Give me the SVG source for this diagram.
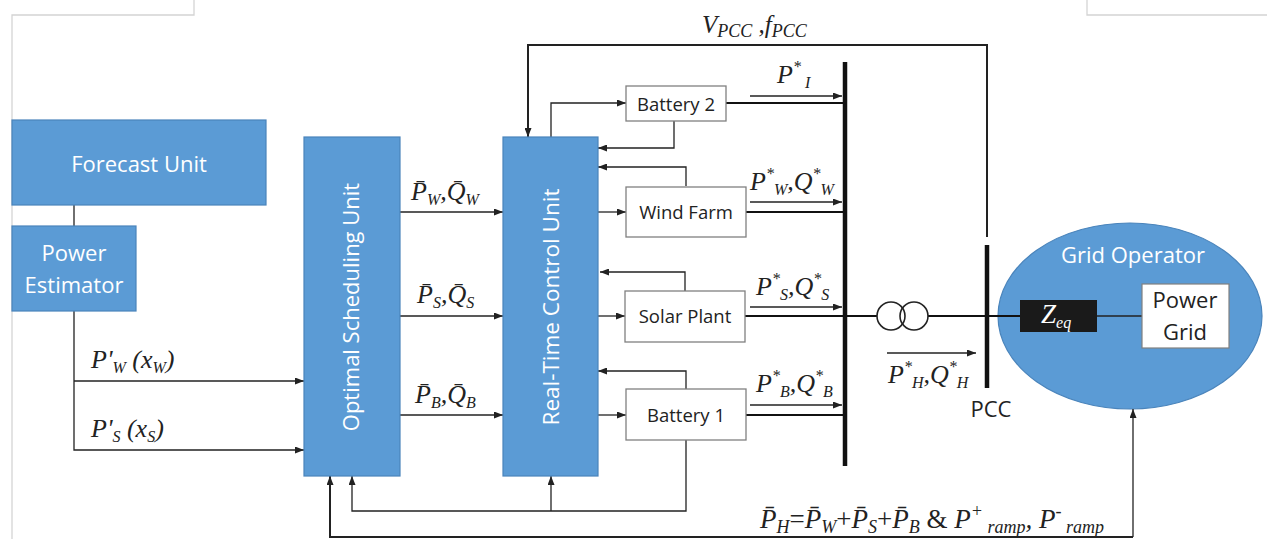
<svg xmlns="http://www.w3.org/2000/svg" width="1267" height="539" viewBox="0 0 1267 539">
<style>
.blue{fill:#5b9bd5;stroke:#4a84bb;stroke-width:1.2}
.wbox{fill:#fff;stroke:#808080;stroke-width:1.3}
.bt{font-family:"Open Sans","Noto Sans",sans-serif;font-size:22px;fill:#fff;text-anchor:middle}
.wt{font-family:"Open Sans","Noto Sans",sans-serif;font-size:18.5px;fill:#222;text-anchor:middle}
.m{font-family:"Liberation Serif","Times New Roman",serif;font-style:italic;font-size:26px;fill:#222}
.s{font-size:16px}
.up{font-style:normal}
.c{fill:none;stroke:#222;stroke-width:1.3}
.ca{fill:none;stroke:#222;stroke-width:1.3;marker-end:url(#ah)}
.pw{fill:none;stroke:#111;stroke-width:2.2}
.bus{fill:none;stroke:#111;stroke-width:4.5}
.frame{fill:none;stroke:#d4d4d4;stroke-width:1.3}
</style>
<defs>
<marker id="ah" markerWidth="9" markerHeight="7" refX="9" refY="3.5" orient="auto" markerUnits="userSpaceOnUse"><path d="M0,0 L9,3.5 L0,7 z" fill="#222"/></marker>
</defs>
<rect width="1267" height="539" fill="#fff"/>
<path class="frame" d="M12,539 V15 H194 V0"/>
<path class="frame" d="M1087,0 V15 H1267"/>

<g id="grid-operator">
<ellipse cx="1130" cy="316" rx="132" ry="93" fill="#5b9bd5" stroke="#4a84bb" stroke-width="1.2"/>
<text class="bt" x="1133" y="263">Grid Operator</text>
</g>

<g id="connectors">
<path class="c" d="M74,205 V226"/>
<path class="ca" d="M74,311 V450 H304"/>
<path class="ca" d="M74,381 H304"/>
<path class="ca" d="M400,212 H503"/>
<path class="ca" d="M400,316 H503"/>
<path class="ca" d="M400,415 H503"/>
<path class="ca" d="M551,137 V103 H626"/>
<path class="ca" d="M674,121 V148 H598"/>
<path class="ca" d="M686,186 V167 H598"/>
<path class="ca" d="M598,212 H626"/>
<path class="ca" d="M685,291 V272 H600"/>
<path class="ca" d="M598,316 H625"/>
<path class="ca" d="M686,390 V371 H598"/>
<path class="ca" d="M598,415 H626"/>
<path class="ca" d="M686,440 V511 H352 V476"/>
<path class="ca" d="M551,511 V476"/>
<path class="ca" d="M1133,537 H330 V476" style="stroke-width:2"/>
<path class="ca" d="M1133,537 V409"/>
<path class="ca" d="M987,237 V45 H528 V137" style="stroke-width:2"/>
<path class="pw" d="M726,103 H845"/>
<path class="pw" d="M746,212 H845"/>
<path class="pw" d="M745,316 H877"/>
<path class="pw" d="M928,316 H1020"/>
<path class="c" d="M1097,316 H1142"/>
<path class="pw" d="M746,415 H845"/>
<path class="ca" d="M750,96 H842"/>
<path class="ca" d="M750,202 H842"/>
<path class="ca" d="M750,307 H842"/>
<path class="ca" d="M750,405 H842"/>
<path class="ca" d="M887,353 H976"/>
<path class="bus" d="M845,62 V466"/>
<path class="bus" d="M987,245 V388"/>
</g>

<g id="transformer">
<circle cx="891" cy="316" r="14" fill="none" stroke="#222" stroke-width="1.6"/>
<circle cx="914" cy="316" r="14" fill="none" stroke="#222" stroke-width="1.6"/>
</g>

<g id="z-eq">
<rect x="1020" y="300" width="77" height="32" fill="#1a1a1a"/>
<text class="m" x="1041" y="323" style="fill:#fff;font-size:27px">Z<tspan class="s" dy="5">eq</tspan></text>
</g>
<g id="power-grid">
<rect x="1142" y="284" width="87" height="64" fill="#fff" stroke="#808080" stroke-width="1.2"/>
<text class="wt" x="1185" y="308" style="font-size:22px">Power</text>
<text class="wt" x="1185" y="340" style="font-size:22px">Grid</text>
</g>

<g id="forecast-unit">
<rect class="blue" x="12" y="120" width="254" height="85"/>
<text class="bt" x="139" y="172">Forecast Unit</text>
</g>
<g id="power-estimator">
<rect class="blue" x="12" y="226" width="124" height="85"/>
<text class="bt" x="74" y="261">Power</text>
<text class="bt" x="74" y="293">Estimator</text>
</g>
<g id="optimal-scheduling-unit">
<rect class="blue" x="304" y="137" width="96" height="339"/>
<text class="bt" transform="translate(359,307) rotate(-90)">Optimal Scheduling Unit</text>
</g>
<g id="real-time-control-unit">
<rect class="blue" x="503" y="137" width="95" height="339"/>
<text class="bt" transform="translate(559,307) rotate(-90)" style="font-size:22.5px">Real-Time Control Unit</text>
</g>
<g id="battery-2">
<rect class="wbox" x="626" y="86" width="100" height="35"/>
<text class="wt" x="676" y="111">Battery 2</text>
</g>
<g id="wind-farm">
<rect class="wbox" x="626" y="187" width="120" height="50"/>
<text class="wt" x="686" y="219">Wind Farm</text>
</g>
<g id="solar-plant">
<rect class="wbox" x="625" y="291" width="120" height="51"/>
<text class="wt" x="685" y="323">Solar Plant</text>
</g>
<g id="battery-1">
<rect class="wbox" x="626" y="389" width="120" height="51"/>
<text class="wt" x="686" y="422">Battery 1</text>
</g>
<g id="pcc">
<text class="wt" x="991" y="417" style="font-size:22px">PCC</text>
</g>

<g id="labels">
<text class="m" x="702" y="33" style="font-size:25px">V<tspan class="s" dy="4" style="font-size:18px">PCC</tspan><tspan dy="-4"> ,f</tspan><tspan class="s" dy="4" style="font-size:18px">PCC</tspan></text>
<text class="m" x="91" y="368">P'<tspan class="s" dy="5">W</tspan><tspan dy="-5"> (x</tspan><tspan class="s" dy="5">W</tspan><tspan dy="-5">)</tspan></text>
<text class="m" x="91" y="437">P'<tspan class="s" dy="5">S</tspan><tspan dy="-5"> (x</tspan><tspan class="s" dy="5">S</tspan><tspan dy="-5">)</tspan></text>
<text class="m" x="411" y="200">P̄<tspan class="s" dy="5">W</tspan><tspan dy="-5">,Q̄</tspan><tspan class="s" dy="5">W</tspan></text>
<text class="m" x="417" y="303">P̄<tspan class="s" dy="5">S</tspan><tspan dy="-5">,Q̄</tspan><tspan class="s" dy="5">S</tspan></text>
<text class="m" x="415" y="403">P̄<tspan class="s" dy="5">B</tspan><tspan dy="-5">,Q̄</tspan><tspan class="s" dy="5">B</tspan></text>
<text class="m" x="777" y="83">P<tspan class="s" dy="-11">*</tspan><tspan class="s" dy="16"> I</tspan></text>
<text class="m" x="750" y="190">P<tspan class="s" dy="-11">*</tspan><tspan class="s" dy="16">W</tspan><tspan dy="-5">,Q</tspan><tspan class="s" dy="-11">*</tspan><tspan class="s" dy="16">W</tspan></text>
<text class="m" x="756" y="295">P<tspan class="s" dy="-11">*</tspan><tspan class="s" dy="16">S</tspan><tspan dy="-5">,Q</tspan><tspan class="s" dy="-11">*</tspan><tspan class="s" dy="16">S</tspan></text>
<text class="m" x="756" y="392">P<tspan class="s" dy="-11">*</tspan><tspan class="s" dy="16">B</tspan><tspan dy="-5">,Q</tspan><tspan class="s" dy="-11">*</tspan><tspan class="s" dy="16">B</tspan></text>
<text class="m" x="888" y="383">P<tspan class="s" dy="-11">*</tspan><tspan class="s" dy="16">H</tspan><tspan dy="-5">,Q</tspan><tspan class="s" dy="-11">*</tspan><tspan class="s" dy="16">H</tspan></text>
<text class="m" x="760" y="528" style="font-size:27px">P̄<tspan class="s" dy="5" style="font-size:18px">H</tspan><tspan class="up" dy="-5">=</tspan>P̄<tspan class="s" dy="5" style="font-size:18px">W</tspan><tspan class="up" dy="-5">+</tspan>P̄<tspan class="s" dy="5" style="font-size:18px">S</tspan><tspan class="up" dy="-5">+</tspan>P̄<tspan class="s" dy="5" style="font-size:18px">B</tspan><tspan class="up" dy="-5"> &amp; </tspan>P<tspan class="s" dy="-11" style="font-size:18px">+</tspan><tspan class="s" dy="16" style="font-size:18px"> ramp</tspan><tspan dy="-5">,  P</tspan><tspan class="s" dy="-11" style="font-size:18px">-</tspan><tspan class="s" dy="16" style="font-size:18px"> ramp</tspan></text>
</g>
</svg>
